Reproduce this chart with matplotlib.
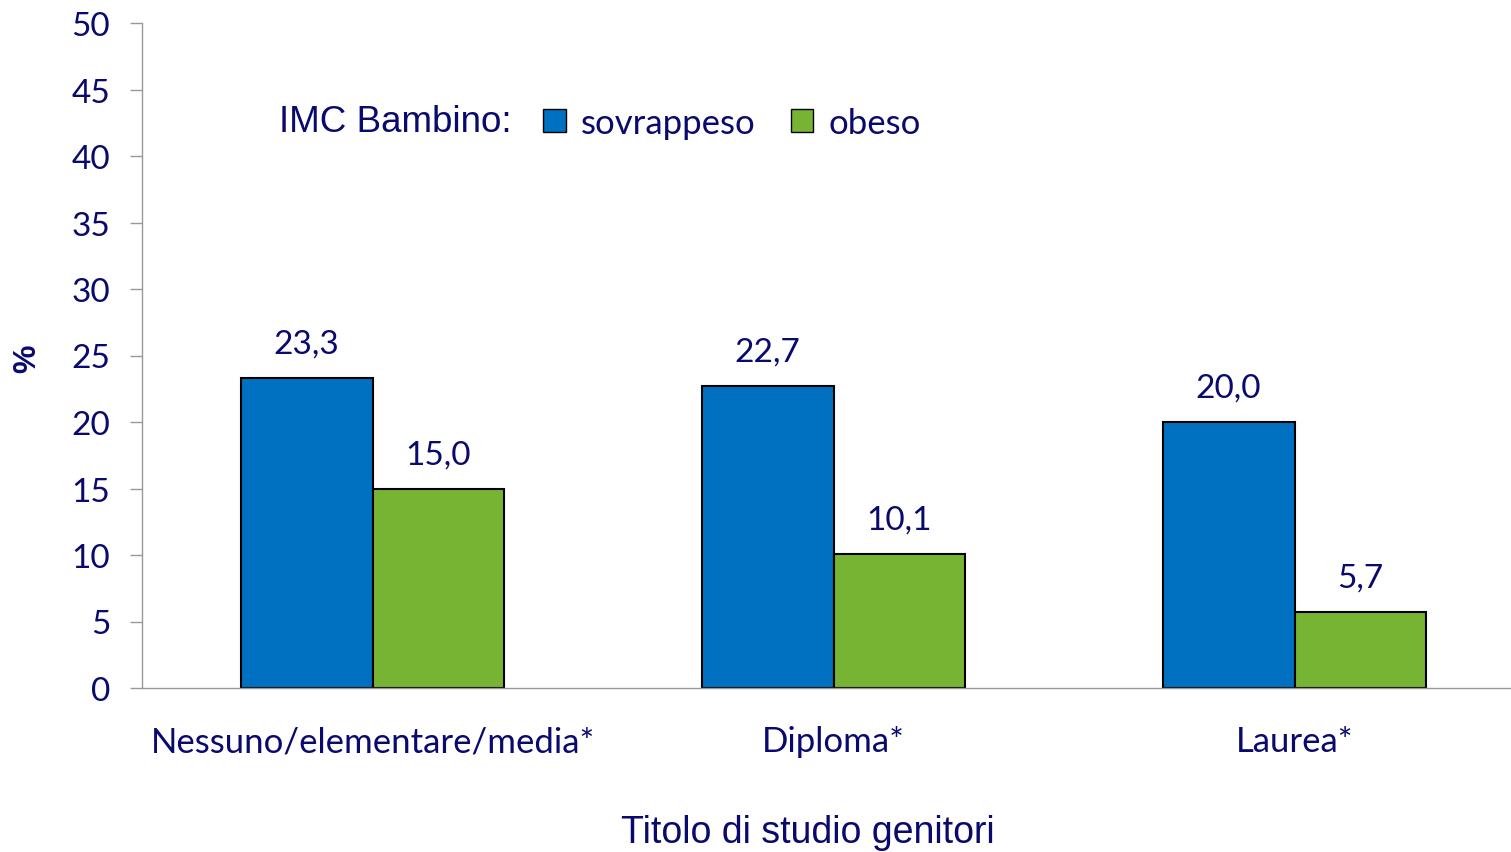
import matplotlib
matplotlib.use("Agg")
import matplotlib.pyplot as plt
from matplotlib.patches import Patch
import numpy as np

categorie = ["Nessuno/elementare/media*", "Diploma*", "Laurea*"]
sovrappeso = [23.3, 22.7, 20.0]
obeso = [15.0, 10.1, 5.7]
yticks = [0, 5, 10, 15, 20, 25, 30, 35, 40, 45, 50]

navy = "#0A0A6E"
blu = "#0070C0"
verde = "#77B433"
grigio = "#999999"

fig = plt.figure(figsize=(15.11, 8.53), dpi=100)
ax = fig.add_axes([142 / 1511, 164 / 853, 1383 / 1511, 665 / 853])

x = np.arange(len(categorie))
w = 0.286
b1 = ax.bar(x - w / 2, sovrappeso, w, color=blu, edgecolor="black", linewidth=1.5)
b2 = ax.bar(x + w / 2, obeso, w, color=verde, edgecolor="black", linewidth=1.5)

for bars, vals in [(b1, sovrappeso), (b2, obeso)]:
    for r, v in zip(bars, vals):
        ax.annotate(f"{v:.1f}".replace(".", ","),
                    (r.get_x() + r.get_width() / 2, v),
                    xytext=(0, 14), textcoords="offset points",
                    ha="center", va="bottom", fontsize=24,
                    family="Lato", color=navy)

ax.set_xlim(-0.5, 2.5)
ax.set_ylim(0, 50)
ax.set_yticks(yticks)
ax.set_yticklabels([str(t) for t in yticks], family="Lato", fontsize=24, color=navy)
ax.set_xticks(x)
ax.set_xticklabels(categorie, family="Lato", fontsize=25, color=navy)
ax.tick_params(axis="x", length=0, pad=27)
ax.tick_params(axis="y", length=9, width=1, color=grigio, pad=14)

for s in ["top", "right"]:
    ax.spines[s].set_visible(False)
for s in ["left", "bottom"]:
    ax.spines[s].set_color(grigio)
    ax.spines[s].set_linewidth(1)

fig.text(27 / 1511, 1 - 359 / 853, "%", rotation=90, ha="center", va="center",
         fontsize=23, fontweight="bold", color=navy, family="Liberation Sans")
fig.text(808 / 1511, 1 - 833 / 853, "Titolo di studio genitori", ha="center",
         va="center", fontsize=27, color=navy, family="Liberation Sans")
fig.text(279 / 1511, 1 - 122 / 853, "IMC Bambino:", ha="left", va="center",
         fontsize=26.5, color=navy, family="Liberation Sans")

handles = [Patch(facecolor=blu, edgecolor="black"),
           Patch(facecolor=verde, edgecolor="black")]
leg = fig.legend(handles, ["sovrappeso", "obeso"], ncol=2, frameon=False,
                 loc="center left", bbox_to_anchor=(543 / 1511, 1 - 124 / 853),
                 prop={"family": "Lato", "size": 25}, handlelength=0.65,
                 handleheight=0.65, handletextpad=0.45, columnspacing=1.0,
                 borderaxespad=0, borderpad=0)
for t in leg.get_texts():
    t.set_color(navy)

fig.savefig("out.png", dpi=100)
